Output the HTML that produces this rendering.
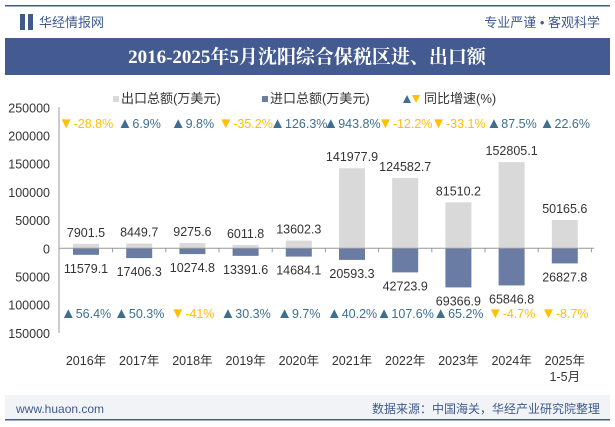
<!DOCTYPE html>
<html><head><meta charset="utf-8">
<style>
body{margin:0;width:615px;height:427px;background:#fff;font-family:"Liberation Sans","Noto Sans CJK SC",sans-serif;overflow:hidden;position:relative}
</style></head><body>
<svg width="615" height="427" style="position:absolute;left:0;top:0" font-family="Liberation Sans, Noto Sans CJK SC, sans-serif">
<rect x="5" y="5" width="605" height="1.5" fill="#3f5a8e"/>
<rect x="20" y="14" width="5" height="16" fill="#3f5a8e"/>
<rect x="28" y="14" width="5" height="16" fill="#3f5a8e"/>
<text x="39" y="27" font-size="13" fill="#3f5a8e">华经情报网</text>
<text x="600" y="27" font-size="13" fill="#3f5a8e" text-anchor="end">专业严谨 • 客观科学</text>
<rect x="5" y="38" width="605" height="37" fill="#435b90"/>
<text x="307" y="63" font-size="19" font-weight="bold" fill="#fff" text-anchor="middle" font-family="Liberation Serif, Noto Serif CJK SC, serif">2016-2025年5月沈阳综合保税区进、出口额</text>
<g font-size="13" fill="#333">
<rect x="113" y="96" width="6" height="6" fill="#d9d9d9"/><text x="121" y="103">出口总额(万美元)</text>
<rect x="262" y="96" width="6" height="6" fill="#6a7ca3"/><text x="270" y="103">进口总额(万美元)</text>
<path d="M403 103 l4 -8 l4 8z" fill="#3f6e8f"/><path d="M412 95 l8 0 l-4 8z" fill="#ffc000"/>
<text x="424" y="103">同比增速(%)</text>
</g>
<g id="plot"></g>
<rect x="5" y="395" width="605" height="24" fill="#f2f3f7"/>
<rect x="5" y="419" width="605" height="1.5" fill="#3f5a8e"/>
<text x="16" y="413" font-size="12" fill="#3f5a8e">www.huaon.com</text>
<text x="600" y="413" font-size="12" fill="#3f5a8e" text-anchor="end">数据来源：中国海关，华经产业研究院整理</text>
</svg>
<script>
const categories=["2016年","2017年","2018年","2019年","2020年","2021年","2022年","2023年","2024年","2025年"];
const exportVals=[7901.5,8449.7,9275.6,6011.8,13602.3,141977.9,124582.7,81510.2,152805.1,50165.6];
const importVals=[11579.1,17406.3,10274.8,13391.6,14684.1,20593.3,42723.9,69366.9,65846.8,26827.8];
const exportGrowth=[-28.8,6.9,9.8,-35.2,126.3,943.8,-12.2,-33.1,87.5,22.6];
const importGrowth=[56.4,50.3,-41,30.3,9.7,40.2,107.6,65.2,-4.7,-8.7];
const yTicks=[250000,200000,150000,100000,50000,0,-50000,-100000,-150000];
const ns="http://www.w3.org/2000/svg";
const g=document.getElementById('plot');
const y0=248.3,k=0.000564,x0=86,step=53.2,bw=26;
const Y=v=>y0-v*k, X=i=>x0+i*step;
function mk(t,a,p){const e=document.createElementNS(ns,t);for(const q in a)e.setAttribute(q,a[q]);(p||g).appendChild(e);return e;}
yTicks.forEach(v=>{const t=mk('text',{x:50,y:Y(v)+5,'font-size':12.5,fill:'#333','text-anchor':'end'});t.textContent=Math.abs(v);

});
const ax=mk('line',{x1:59,x2:59,y1:Y(250000),y2:Y(-150000),stroke:'#999'});


categories.forEach((c,i)=>{
const x=X(i);
const eb=mk('rect',{x:x-bw/2,y:Y(exportVals[i]),width:bw,height:exportVals[i]*k,fill:'#d9d9d9'});


const ib=mk('rect',{x:x-bw/2,y:y0,width:bw,height:importVals[i]*k,fill:'#6a7ca3'});


const el=mk('text',{x:x,y:Y(exportVals[i])-7,'font-size':12.5,fill:'#333','text-anchor':'middle'});el.textContent=exportVals[i];


const il=mk('text',{x:x,y:y0+importVals[i]*k+18,'font-size':12.5,fill:'#333','text-anchor':'middle'});il.textContent=importVals[i];


[[exportGrowth[i],128],[importGrowth[i],318]].forEach(([gv,yy],j)=>{
const up=gv>=0,col=up?'#3f6e8f':'#ffc000';
const t=mk('text',{x:x,y:yy,'font-size':12.5,fill:col,'text-anchor':'middle'});
const s1=mk('tspan',{'font-size':15},t);s1.textContent=up?'▲':'▼';
const s2=mk('tspan',{},t);s2.textContent=gv+'%';


});
const xl=mk('text',{x:x,y:365,'font-size':12.5,fill:'#333','text-anchor':'middle'});xl.textContent=c;


const tk=mk('line',{x1:x+step/2,x2:x+step/2,y1:y0,y2:y0+4,stroke:'#999'});


});
const sub=mk('text',{x:X(9),y:381,'font-size':12.5,fill:'#333','text-anchor':'middle'});sub.textContent='1-5月';


const zl=mk('line',{x1:59,x2:594,y1:y0,y2:y0,stroke:'#999'});


</script>
</body></html>
